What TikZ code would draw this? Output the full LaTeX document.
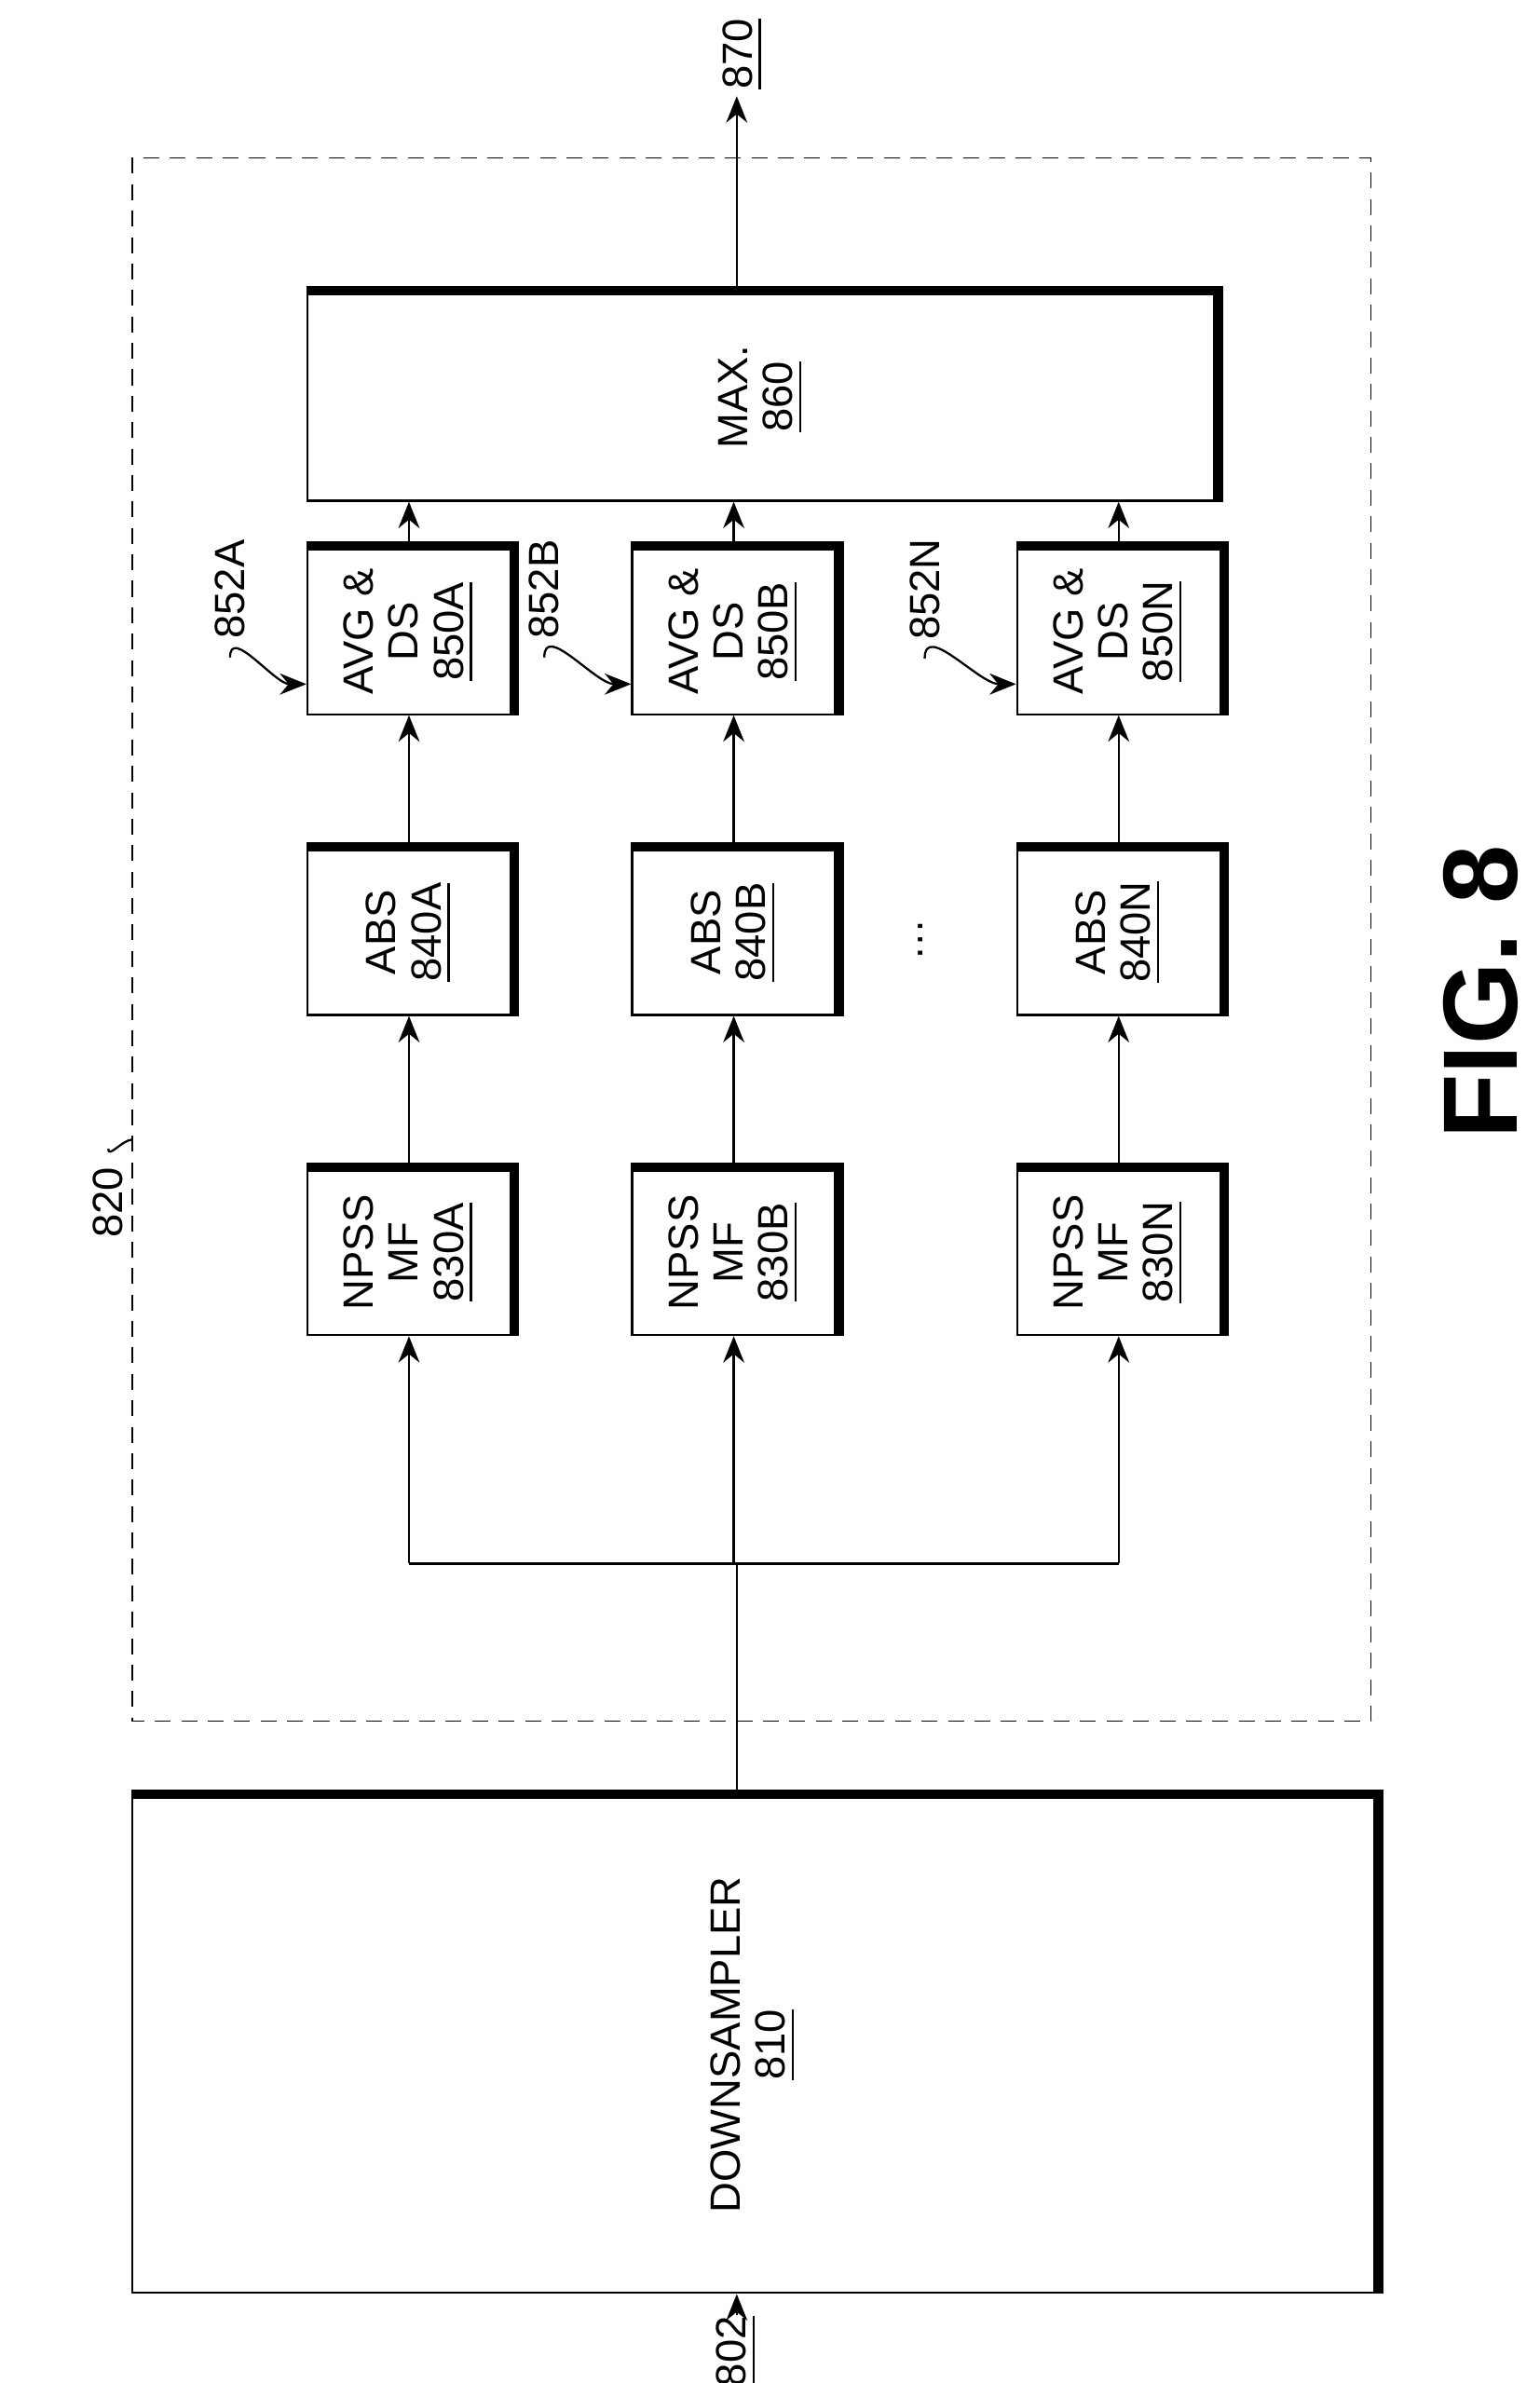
\documentclass[tikz,border=0pt]{standalone}
\usepackage{fontspec}
\setmainfont{Liberation Sans}
\usetikzlibrary{arrows.meta,calc}
\tikzset{
  blk/.style={rectangle,draw,thin,fill=white,align=center,font=\fontsize{8}{8.5}\selectfont,rotate=90},
  shd/.style={line width=1.8pt},
  arr/.style={-{Stealth[length=5pt,width=4pt]},thin},
  lbl/.style={font=\fontsize{8}{8.5}\selectfont,rotate=90}
}
\begin{document}
\begin{tikzpicture}[x=0.01cm,y=-0.01cm]
            \useasboundingbox (0,0) rectangle (1024,1585);
            % outer dashed frame
            \draw[densely dashed,very thin] (88,105) rectangle (912,1145);
            \node[blk,minimum width=3.3cm,minimum height=8.26cm] (ds) at (501,1360) {DOWNSAMPLER\\\underline{810}};
            \node[blk,minimum width=1.38cm,minimum height=6.03cm] (max) at (506,264) {MAX.\\\underline{860}};
            \foreach \n/\x in {A/272,B/488,N/744}{
              \node[blk,minimum width=1.1cm,minimum height=1.35cm] (mf\n) at (\x,833) {NPSS\\MF\\\underline{830\n}};
              \node[blk,minimum width=1.1cm,minimum height=1.35cm] (abs\n) at (\x,620) {ABS\\\underline{840\n}};
              \node[blk,minimum width=1.1cm,minimum height=1.35cm] (avg\n) at (\x,420) {AVG \&\\DS\\\underline{850\n}};
              \draw[arr] (mf\n) -- (abs\n);
              \draw[arr] (abs\n) -- (avg\n);
              \draw[arr] (avg\n.east) -- (max.west -| avg\n);
            }
            % shadows on top and right edges
            \foreach \b in {ds,max,mfA,mfB,mfN,absA,absB,absN,avgA,avgB,avgN}{
              \draw[shd] ($(\b.north |- \b.east)+(0,-1)$) -- ($(\b.south |- \b.east)+(2,-1)$) -- ($(\b.south |- \b.west)+(2,0)$);
            }
            \coordinate (jn) at (490,1040);
            \coordinate (in) at (490,1540);
            \coordinate (out) at (490,64);
            \draw[arr] (in) -- (ds.west -| in);
            \draw[thin] (ds.east -| jn) -- (jn);
            \draw[thin] (mfA |- jn) -- (mfN |- jn);
            \foreach \n in {A,B,N}{\draw[arr] (mf\n |- jn) -- (mf\n.west);}
            \draw[arr] (max.east -| jn) -- (out);
            \node[lbl] (l802) at (490,1564) {\underline{802}};
            \node[lbl] (l870) at (494,36) {\underline{870}};
            \node[lbl] (l820) at (72,800) {820};
            \draw[thin] (l820.east) to[out=-90,in=180] (88,758);
            \node[lbl] (l852A) at (153,392) {852A};
            \node[lbl] (l852B) at (362,392) {852B};
            \node[lbl] (l852N) at (615,392) {852N};
            \foreach \n in {A,B,N}{\draw[arr] (l852\n.west) to[out=90,in=180] ($(avg\n.north)+(0,35)$);}
            \node[lbl] (dots) at (612,625) {\dots};
            \node[rotate=90,font=\bfseries\fontsize{20}{20}\selectfont] (fig) at (985,660) {FIG. 8};
\end{tikzpicture}
\end{document}
